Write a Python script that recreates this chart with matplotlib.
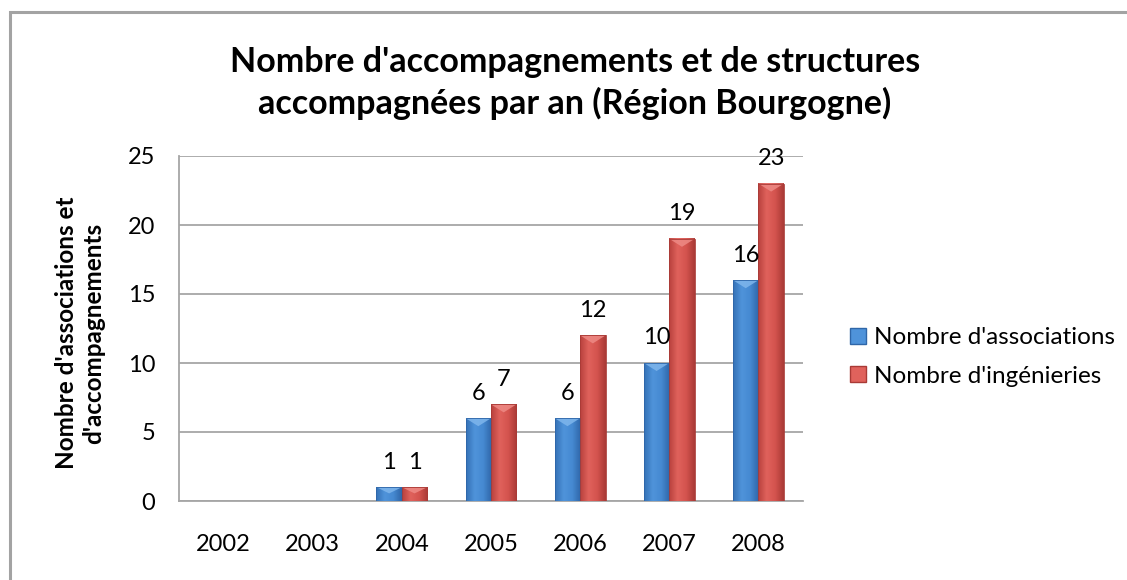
import numpy as np
import matplotlib.pyplot as plt
import matplotlib.patches as patches
from matplotlib.colors import LinearSegmentedColormap

plt.rcParams['font.family'] = ['Lato', 'DejaVu Sans']

years = ['2002', '2003', '2004', '2005', '2006', '2007', '2008']
associations = [0, 0, 1, 6, 6, 10, 16]
ingenieries = [0, 0, 1, 7, 12, 19, 23]
series_names = ["Nombre d'associations", "Nombre d'ingénieries"]
title = "Nombre d'accompagnements et de structures\naccompagnées par an (Région Bourgogne)"
ylabel = "Nombre d'associations et\nd'accompagnements"

blue_grad = ['#3471b6', '#4f93da', '#468ad2', '#2f66a8']
red_grad = ['#b8413d', '#e0625c', '#d4534e', '#a93a36']
blue_top = '#7fb6ec'
red_top = '#ee8a85'

W, H = 1127, 580
fig = plt.figure(figsize=(W / 100, H / 100), dpi=100)

# chart frame (cut off on right and bottom like the screenshot)
frame = patches.Rectangle((10 / W, -0.1), 1.2, 1 - 12 / H + 0.1, transform=fig.transFigure,
						fill=False, edgecolor='#a3a3a3', linewidth=2.2)
fig.patches.append(frame)

ax = fig.add_axes([179 / W, (H - 501) / H, 624 / W, 345 / H])
ax.set_xlim(-0.5, len(years) - 0.5)
ax.set_ylim(0, 25)

bw = 0.285
px_per_unit = 345 / 25.0

def grad_bar(xc, h, colors, topcol):
	if h <= 0:
		return
	cmap = LinearSegmentedColormap.from_list('g', colors)
	grad = np.linspace(0, 1, 64).reshape(1, -1)
	x0, x1 = xc - bw / 2, xc + bw / 2
	ax.imshow(grad, extent=[x0, x1, 0, h], aspect='auto', cmap=cmap, zorder=3,
			interpolation='bicubic')
	d = min(8 / px_per_unit, h * 0.45)
	tri = patches.Polygon([[x0, h], [x1, h], [xc, h - d]], closed=True,
						facecolor=topcol, edgecolor='none', alpha=0.85, zorder=4)
	ax.add_patch(tri)
	ax.add_patch(patches.Rectangle((x0, 0), bw, h, fill=False, edgecolor=colors[-1],
						linewidth=0.6, zorder=4))

x = np.arange(len(years))
for i in x:
	for vals, off, cols, top in [(associations, -bw / 2, blue_grad, blue_top),
								(ingenieries, bw / 2, red_grad, red_top)]:
		v = vals[i]
		grad_bar(i + off, v, cols, top)
		if v > 0:
			ax.annotate(str(v), (i + off, v), xytext=(0, 18), textcoords='offset points',
						ha='center', va='center', fontsize=17, color='black', zorder=5)

ax.set_xlim(-0.5, len(years) - 0.5)
ax.set_ylim(0, 25)
ax.set_yticks(np.arange(0, 26, 5))
ax.set_xticks(x)
ax.set_xticklabels(years)
ax.grid(axis='y', color='#a6a6a6', linewidth=1.3, zorder=0)
ax.set_axisbelow(True)
for s in ['top', 'right']:
	ax.spines[s].set_visible(False)
for s in ['left', 'bottom']:
	ax.spines[s].set_color('#a6a6a6')
	ax.spines[s].set_linewidth(1.3)
ax.tick_params(axis='both', length=0, labelsize=17)
ax.tick_params(axis='x', pad=24)
ax.tick_params(axis='y', pad=17)

fig.text(575 / W, 1 - 83 / H, title, ha='center', va='center', fontsize=24.5,
		fontweight='bold', linespacing=1.32)
fig.text(80 / W, 1 - 333 / H, ylabel, ha='center', va='center', rotation=90,
		fontsize=17.5, fontweight='bold', multialignment='center', linespacing=1.2)

handles = [patches.Patch(facecolor=blue_grad[1], edgecolor=blue_grad[-1]),
		patches.Patch(facecolor=red_grad[1], edgecolor=red_grad[-1])]
fig.legend(handles, series_names, loc='center left', bbox_to_anchor=(840 / W, 1 - 357 / H),
		frameon=False, fontsize=17.5, handlelength=0.65, handleheight=0.65,
		handletextpad=0.35, labelspacing=0.7, borderaxespad=0)

fig.savefig('out.png', dpi=100)
